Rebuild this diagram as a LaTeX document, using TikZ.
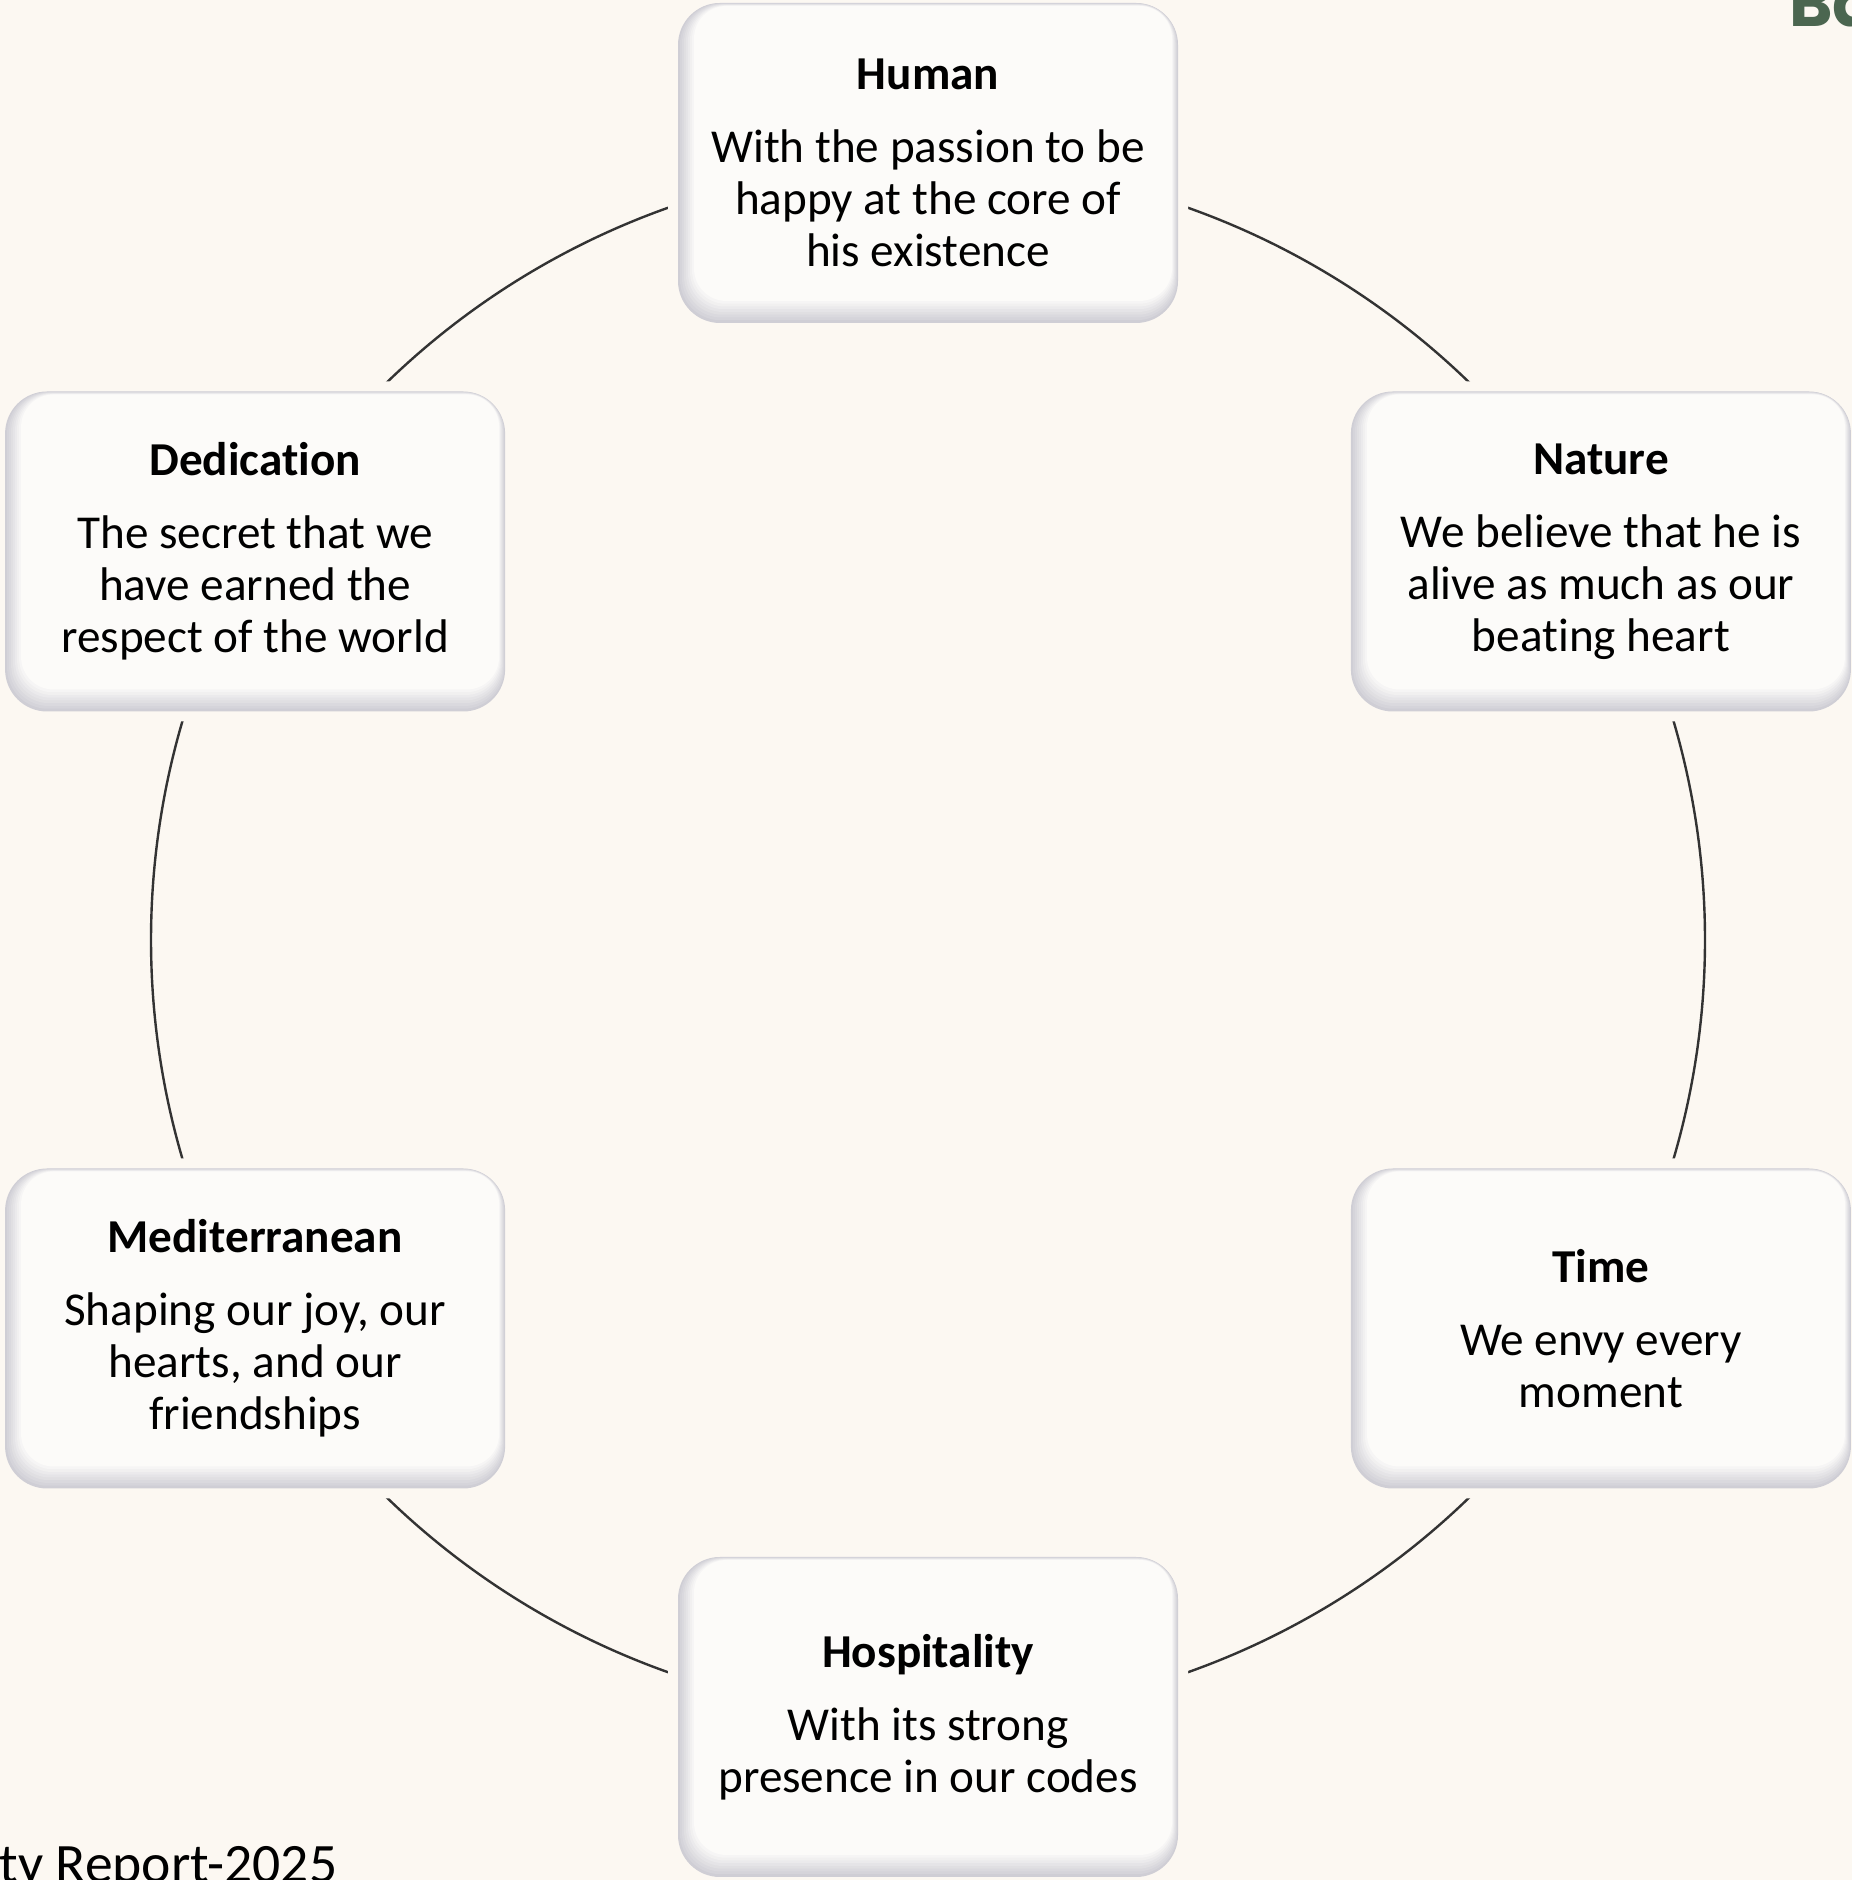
\documentclass[tikz,border=0pt]{standalone}
\usepackage{fontspec}
\setmainfont{Carlito}[Ligatures=NoCommon]
\newfontfamily\headfont{Poppins}
\usetikzlibrary{backgrounds}
\definecolor{bg}{HTML}{FCF8F2}
\definecolor{boxw}{HTML}{FCFBF9}
\definecolor{boxe}{HTML}{CFCED5}
\definecolor{arcc}{HTML}{333333}
\definecolor{headgreen}{HTML}{4B6650}
\begin{document}
\begin{tikzpicture}[x=0.5pt,y=0.5pt,
  card/.style={rounded corners=21pt, minimum width=250pt, minimum height=160pt,
    inner sep=0pt, align=center, font=\fontsize{23.6}{26}\selectfont,
    preaction={draw=bg, line width=10pt},
    fill=boxe,
    path picture={
      \foreach \k in {1,...,8}{
        \pgfmathsetmacro\pc{100*\k/8}
        \pgfmathsetmacro\rc{21-0.6*\k}
        \fill[boxw!\pc!boxe, rounded corners=\rc pt]
          ([shift={(2*\k,2.75*\k)}]path picture bounding box.south west) rectangle
          ([shift={(-0.75*\k,-0.375*\k)}]path picture bounding box.north east);
      }
    }},
  ring/.style={draw=arcc, line width=1.2pt}]
\useasboundingbox (0,0) rectangle (1852,1880);
\coordinate (O) at (928,940);

\node[card] (human) at ([shift={(90:777)}]O)
  {\textbf{Human}\\[10.5pt]With the passion to be\\happy at the core of\\his existence};
\node[card] (nature) at ([shift={(30:777)}]O)
  {\textbf{Nature}\\[10.5pt]We believe that he is\\alive as much as our\\beating heart};
\node[card] (time) at ([shift={(-30:777)}]O)
  {\textbf{Time}\\[10.5pt]We envy every\\moment};
\node[card] (hosp) at ([shift={(-90:777)}]O)
  {\textbf{Hospitality}\\[10.5pt]With its strong\\presence in our codes};
\node[card] (med) at ([shift={(210:777)}]O)
  {\textbf{Mediterranean}\\[10.5pt]Shaping our joy, our\\hearts, and our\\friendships};
\node[card] (ded) at ([shift={(150:777)}]O)
  {\textbf{Dedication}\\[10.5pt]The secret that we\\have earned the\\respect of the world};

\node[anchor=base west, inner sep=0pt, font=\fontsize{27.8}{31}\selectfont] (footer) at (-1,-3) {ty Report-2025};
\node[anchor=base west, inner sep=0pt, text=headgreen, font=\headfont\bfseries\fontsize{33}{36}\selectfont] (head) at (1789,1853) {Ba};

\begin{scope}[on background layer]
  \fill[bg] (0,0) rectangle (1852,1880);
  \draw[ring] (human.center) arc[start angle=90, end angle=30, radius=777];
  \draw[ring] (nature.center) arc[start angle=30, end angle=-30, radius=777];
  \draw[ring] (time.center) arc[start angle=-30, end angle=-90, radius=777];
  \draw[ring] (hosp.center) arc[start angle=-90, end angle=-150, radius=777];
  \draw[ring] (med.center) arc[start angle=210, end angle=150, radius=777];
  \draw[ring] (ded.center) arc[start angle=150, end angle=90, radius=777];
\end{scope}
\end{tikzpicture}
\end{document}
